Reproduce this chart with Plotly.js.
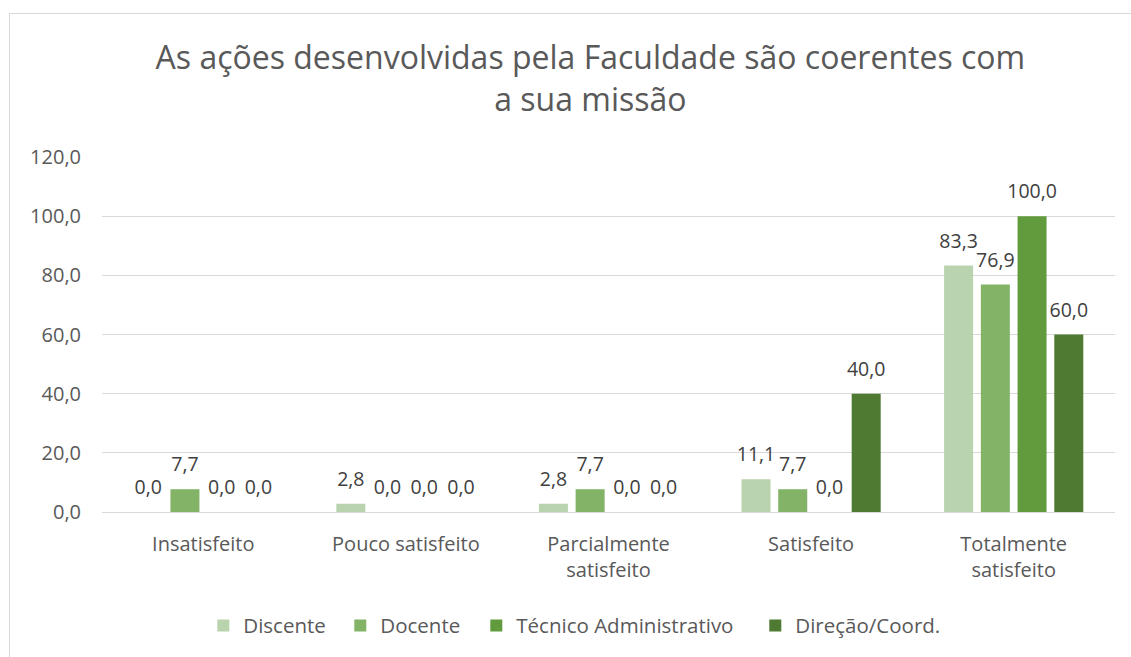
<!DOCTYPE html>
<html>
<head>
<meta charset="utf-8">
<script src="https://cdn.plot.ly/plotly-3.0.1.min.js"></script>
<style>
html,body{margin:0;padding:0;background:#fff;}
#frame{position:absolute;left:9px;top:13px;width:1122px;height:644px;border-left:1px solid #d9d9d9;border-top:1px solid #d9d9d9;pointer-events:none;z-index:5;}
#chart{position:absolute;left:0;top:0;width:1131px;height:657px;}
</style>
</head>
<body>
<div id="chart"></div>
<div id="frame"></div>
<script>
const categories = ["Insatisfeito", "Pouco satisfeito", "Parcialmente<br>satisfeito", "Satisfeito", "Totalmente<br>satisfeito"];
const seriesNames = ["Discente", "Docente", "Técnico Administrativo", "Direção/Coord."];
const discente = [0.0, 2.8, 2.8, 11.1, 83.3];
const docente = [7.7, 0.0, 7.7, 7.7, 76.9];
const tecnico = [0.0, 0.0, 0.0, 0.0, 100.0];
const direcao = [0.0, 0.0, 0.0, 40.0, 60.0];
const yTicks = [0, 20, 40, 60, 80, 100, 120];

const colors = ["#B9D3AE", "#82B366", "#629B3E", "#4E7A31"];
const legendWidths = [92, 91, 234, 170];
const allValues = [discente, docente, tecnico, direcao];
const fontFam = "Open Sans, Noto Sans, sans-serif";

const traces = allValues.map((vals, i) => ({
  type: "bar",
  name: seriesNames[i],
  x: categories,
  y: vals,
  marker: {color: colors[i]},
  text: vals.map(v => v.toFixed(1).replace(".", ",")),
  textposition: "outside",
  textfont: {family: fontFam, size: 19.5, color: "#404040"},
  constraintext: "none",
  cliponaxis: false,
  legendwidth: legendWidths[i],
  hoverinfo: "x+y+name"
}));

const layout = {
  width: 1131,
  height: 657,
  paper_bgcolor: "#ffffff",
  plot_bgcolor: "#ffffff",
  separators: ", ",
  margin: {l: 102, r: 16, t: 157, b: 145},
  title: {
    text: "As ações desenvolvidas pela Faculdade são coerentes com<br>a sua missão",
    font: {family: fontFam, size: 32, color: "#595959"},
    x: 0.522, xanchor: "center",
    yref: "container",
    y: 0.895, yanchor: "top"
  },
  barmode: "group",
  bargap: 0.275,
  bargroupgap: 0.21,
  xaxis: {
    type: "category",
    showgrid: false,
    showline: true,
    linecolor: "#d9d9d9",
    linewidth: 1,
    ticks: "",
    ticklabelstandoff: 14,
    tickfont: {family: fontFam, size: 20, color: "#595959"},
    automargin: false
  },
  yaxis: {
    range: [0, 120],
    tickvals: yTicks,
    tickformat: ".1f",
    showgrid: true,
    gridcolor: "#d9d9d9",
    gridwidth: 1,
    zeroline: false,
    showline: false,
    ticks: "",
    ticklabelstandoff: 20,
    tickfont: {family: fontFam, size: 20, color: "#595959"},
    automargin: false
  },
  legend: {
    orientation: "h",
    x: 0.1, xanchor: "left",
    y: -0.32, yanchor: "middle",
    font: {family: fontFam, size: 20.5, color: "#595959"},
    itemwidth: 30,
    tracegroupgap: 0
  },
  showlegend: true
};

Plotly.newPlot("chart", traces, layout, {displayModeBar: false, staticPlot: true}).then(() => {
  document.querySelectorAll("#chart .bartext").forEach(t => {
    const tr = t.getAttribute("transform") || "";
    t.setAttribute("transform", "translate(0,-9) " + tr);
  });
});
</script>
</body>
</html>
